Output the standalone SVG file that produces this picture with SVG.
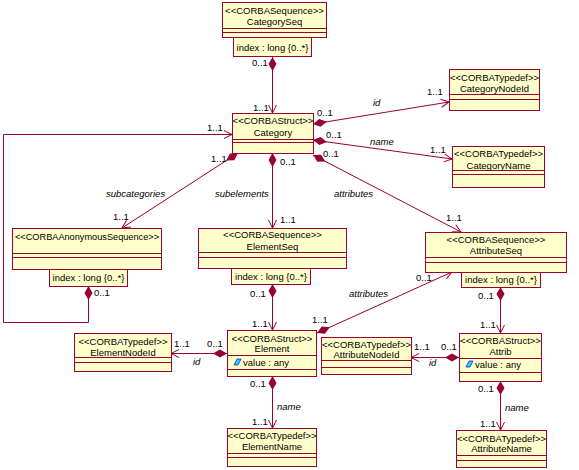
<svg xmlns="http://www.w3.org/2000/svg" width="579" height="470" viewBox="0 0 579 470">
<style>
.b{fill:#ffffcc;stroke:#990033;stroke-width:1}
.d{stroke:#990033;stroke-width:1}
.t{font-family:"Liberation Sans",Arial,sans-serif;font-size:9.5px;fill:#000;text-anchor:middle}
.l{font-family:"Liberation Sans",Arial,sans-serif;font-size:9.5px;fill:#000}
.i{font-family:"Liberation Sans",Arial,sans-serif;font-size:9.5px;fill:#000;font-style:italic}
.c{fill:none;stroke:#990033;stroke-width:1;marker-start:url(#dia);marker-end:url(#arr)}
.ic{fill:#33ccff;stroke:#0033cc;stroke-width:0.8}
</style>
<defs>
<marker id="dia" viewBox="0 0 16 10" refX="0" refY="5" markerWidth="16" markerHeight="10" orient="auto" markerUnits="userSpaceOnUse"><path d="M0,5 L7,1 L14,5 L7,9 Z" fill="#990033"/></marker>
<marker id="arr" viewBox="0 0 10 10" refX="9" refY="5" markerWidth="10" markerHeight="10" orient="auto" markerUnits="userSpaceOnUse"><path d="M1,1 L9,5 L1,9" fill="none" stroke="#990033" stroke-width="1"/></marker>
</defs>

<g id="connectors">
<path class="c" d="M272.5,57 L272.5,113"/>
<path class="c" d="M313,124 L449,102"/>
<path class="c" d="M313,140 L452,159"/>
<path class="c" d="M313,155 L461,232"/>
<path class="c" d="M238,153 L122,228"/>
<path class="c" d="M272.5,153 L272.5,228"/>
<path class="c" d="M272.5,284 L272.5,330"/>
<path class="c" d="M272.5,376 L272.5,428"/>
<path class="c" d="M227,353.5 L171,353.5"/>
<path class="c" d="M317,333 L452,272"/>
<path class="c" d="M500.5,287 L500.5,333"/>
<path class="c" d="M459,357.5 L411,357.5"/>
<path class="c" d="M500.5,381 L500.5,430"/>
<path class="c" d="M88.5,286 L88.5,322.5 L3.5,322.5 L3.5,134.5 L232,134.5"/>
<text class="l" x="252" y="66">0..1</text>
<text class="l" x="253" y="111">1..1</text>
<text class="l" x="317" y="116">0..1</text>
<text class="i" x="373" y="106">id</text>
<text class="l" x="427" y="95">1..1</text>
<text class="l" x="326" y="138">0..1</text>
<text class="i" x="370" y="145">name</text>
<text class="l" x="430" y="153">1..1</text>
<text class="l" x="323" y="157">0..1</text>
<text class="i" x="334" y="197">attributes</text>
<text class="l" x="446" y="221">1..1</text>
<text class="l" x="211" y="162">1..1</text>
<text class="i" x="106" y="197">subcategories</text>
<text class="l" x="113" y="220">1..1</text>
<text class="l" x="280" y="165">0..1</text>
<text class="i" x="215" y="197">subelements</text>
<text class="l" x="280" y="223">1..1</text>
<text class="l" x="250" y="297">0..1</text>
<text class="l" x="252" y="327">1..1</text>
<text class="l" x="250" y="387">0..1</text>
<text class="i" x="277" y="410">name</text>
<text class="l" x="252" y="425">1..1</text>
<text class="l" x="207" y="347">0..1</text>
<text class="l" x="174" y="347">1..1</text>
<text class="i" x="193" y="365">id</text>
<text class="l" x="312" y="323">1..1</text>
<text class="l" x="416" y="281">0..1</text>
<text class="i" x="349" y="297">attributes</text>
<text class="l" x="478" y="299">0..1</text>
<text class="l" x="480" y="328">1..1</text>
<text class="l" x="414" y="350">1..1</text>
<text class="l" x="441" y="350">0..1</text>
<text class="i" x="429" y="366">id</text>
<text class="l" x="478" y="392">0..1</text>
<text class="i" x="505" y="411">name</text>
<text class="l" x="480" y="427">1..1</text>
<text class="l" x="94" y="296">0..1</text>
<text class="l" x="207" y="131">1..1</text>
</g>

<g id="CategorySeq">
<rect class="b" x="222.5" y="2.5" width="104" height="35"/>
<line class="d" x1="222.5" y1="28.5" x2="326.5" y2="28.5"/>
<line class="d" x1="222.5" y1="32.5" x2="326.5" y2="32.5"/>
<text class="t" x="274.5" y="14">&lt;&lt;CORBASequence&gt;&gt;</text>
<text class="t" x="274.5" y="25">CategorySeq</text>
<rect class="b" x="233.5" y="37.5" width="78" height="19"/>
<text class="t" x="272.5" y="51">index : long {0..*}</text>
</g>

<g id="Category">
<rect class="b" x="232.5" y="113.5" width="81" height="40"/>
<line class="d" x1="232.5" y1="139.5" x2="313.5" y2="139.5"/>
<line class="d" x1="232.5" y1="142.5" x2="313.5" y2="142.5"/>
<text class="t" x="273" y="124">&lt;&lt;CORBAStruct&gt;&gt;</text>
<text class="t" x="273" y="136">Category</text>
</g>

<g id="CategoryNodeId">
<rect class="b" x="449.5" y="69.5" width="90" height="41"/>
<line class="d" x1="449.5" y1="94.5" x2="539.5" y2="94.5"/>
<line class="d" x1="449.5" y1="99.5" x2="539.5" y2="99.5"/>
<text class="t" x="494.5" y="80.5">&lt;&lt;CORBATypedef&gt;&gt;</text>
<text class="t" x="494.5" y="91.5">CategoryNodeId</text>
</g>

<g id="CategoryName">
<rect class="b" x="452.5" y="146.5" width="92" height="41"/>
<line class="d" x1="452.5" y1="170.5" x2="544.5" y2="170.5"/>
<line class="d" x1="452.5" y1="174.5" x2="544.5" y2="174.5"/>
<text class="t" x="498.5" y="157">&lt;&lt;CORBATypedef&gt;&gt;</text>
<text class="t" x="498.5" y="168.5">CategoryName</text>
</g>

<g id="AnonymousSequence">
<rect class="b" x="12.5" y="228.5" width="149" height="41"/>
<line class="d" x1="12.5" y1="253.5" x2="161.5" y2="253.5"/>
<line class="d" x1="12.5" y1="257.5" x2="161.5" y2="257.5"/>
<text class="t" x="87" y="240" style="font-size:9.2px">&lt;&lt;CORBAAnonymousSequence&gt;&gt;</text>
<rect class="b" x="49.5" y="269.5" width="78" height="17"/>
<text class="t" x="88.5" y="281">index : long {0..*}</text>
</g>

<g id="ElementSeq">
<rect class="b" x="198.5" y="228.5" width="148" height="40"/>
<line class="d" x1="198.5" y1="252.5" x2="346.5" y2="252.5"/>
<line class="d" x1="198.5" y1="257.5" x2="346.5" y2="257.5"/>
<text class="t" x="272.5" y="238">&lt;&lt;CORBASequence&gt;&gt;</text>
<text class="t" x="272.5" y="250">ElementSeq</text>
<rect class="b" x="231.5" y="268.5" width="79" height="16"/>
<text class="t" x="271" y="280">index : long {0..*}</text>
</g>

<g id="AttributeSeq">
<rect class="b" x="425.5" y="232.5" width="141" height="40"/>
<line class="d" x1="425.5" y1="257.5" x2="566.5" y2="257.5"/>
<line class="d" x1="425.5" y1="262.5" x2="566.5" y2="262.5"/>
<text class="t" x="496" y="243">&lt;&lt;CORBASequence&gt;&gt;</text>
<text class="t" x="496" y="254">AttributeSeq</text>
<rect class="b" x="461.5" y="272.5" width="79" height="15"/>
<text class="t" x="501" y="283">index : long {0..*}</text>
</g>

<g id="Element">
<rect class="b" x="227.5" y="330.5" width="89" height="46"/>
<line class="d" x1="227.5" y1="355.5" x2="316.5" y2="355.5"/>
<line class="d" x1="227.5" y1="369.5" x2="316.5" y2="369.5"/>
<text class="t" x="272" y="342">&lt;&lt;CORBAStruct&gt;&gt;</text>
<text class="t" x="272" y="352">Element</text>
<path class="ic" d="M237,359 L241,359 L238,365 L234,365 Z"/>
<text class="l" x="243" y="366">value : any</text>
</g>

<g id="ElementNodeId">
<rect class="b" x="74.5" y="333.5" width="97" height="38"/>
<line class="d" x1="74.5" y1="357.5" x2="171.5" y2="357.5"/>
<line class="d" x1="74.5" y1="362.5" x2="171.5" y2="362.5"/>
<text class="t" x="123" y="345">&lt;&lt;CORBATypedef&gt;&gt;</text>
<text class="t" x="123" y="356">ElementNodeId</text>
</g>

<g id="ElementName">
<rect class="b" x="227.5" y="428.5" width="89" height="38"/>
<line class="d" x1="227.5" y1="453.5" x2="316.5" y2="453.5"/>
<line class="d" x1="227.5" y1="457.5" x2="316.5" y2="457.5"/>
<text class="t" x="272" y="439">&lt;&lt;CORBATypedef&gt;&gt;</text>
<text class="t" x="272" y="450">ElementName</text>
</g>

<g id="AttributeNodeId">
<rect class="b" x="321.5" y="337.5" width="90" height="37"/>
<line class="d" x1="321.5" y1="360.5" x2="411.5" y2="360.5"/>
<line class="d" x1="321.5" y1="367.5" x2="411.5" y2="367.5"/>
<text class="t" x="366.5" y="348">&lt;&lt;CORBATypedef&gt;&gt;</text>
<text class="t" x="366.5" y="358">AttributeNodeId</text>
</g>

<g id="Attrib">
<rect class="b" x="459.5" y="333.5" width="82" height="48"/>
<line class="d" x1="459.5" y1="358.5" x2="541.5" y2="358.5"/>
<line class="d" x1="459.5" y1="372.5" x2="541.5" y2="372.5"/>
<text class="t" x="500.5" y="344">&lt;&lt;CORBAStruct&gt;&gt;</text>
<text class="t" x="500.5" y="355">Attrib</text>
<path class="ic" d="M469,361 L473,361 L470,367 L466,367 Z"/>
<text class="l" x="475" y="368">value : any</text>
</g>

<g id="AttributeName">
<rect class="b" x="456.5" y="430.5" width="90" height="37"/>
<line class="d" x1="456.5" y1="455.5" x2="546.5" y2="455.5"/>
<line class="d" x1="456.5" y1="460.5" x2="546.5" y2="460.5"/>
<text class="t" x="501.5" y="442">&lt;&lt;CORBATypedef&gt;&gt;</text>
<text class="t" x="501.5" y="452">AttributeName</text>
</g>
</svg>
